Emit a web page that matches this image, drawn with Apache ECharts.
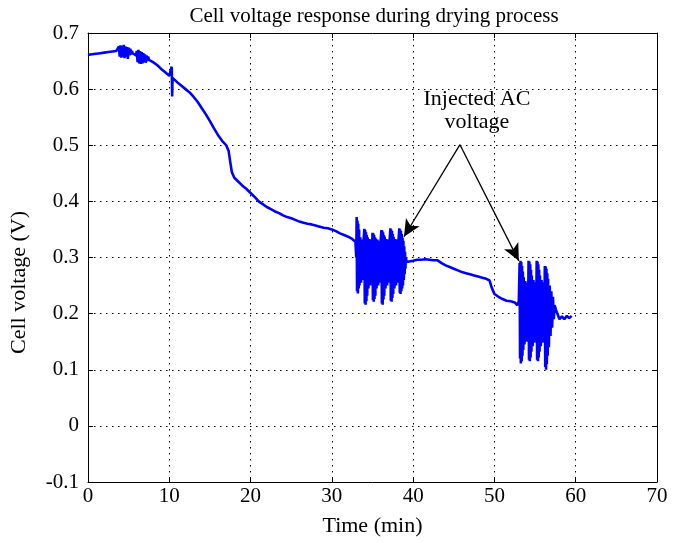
<!DOCTYPE html>
<html>
<head>
<meta charset="utf-8">
<script src="https://cdn.jsdelivr.net/npm/echarts@6/dist/echarts.min.js"></script>
<style>html,body{margin:0;padding:0;background:#fff;}#c{width:686px;height:542px;}</style>
</head>
<body>
<div id="c"></div>
<script>
// Time (min)
var timeMin = [
0,0.5,1,1.5,2,2.5,3,3.5,
3.7,3.8,3.9,4.0,4.1,4.2,4.3,4.4,4.5,4.6,4.7,4.8,4.9,5.0,5.1,5.2,5.3,5.4,5.5,5.7,5.9,
6.0,6.1,6.2,6.3,6.4,6.5,6.6,6.7,6.8,6.9,7.0,7.1,7.2,7.3,7.4,7.5,
8.0,8.5,9.0,9.5,10.0,10.2,10.3,10.35,10.4,10.6,11.0,11.5,12,12.5,13,13.5,14,14.5,15,15.5,16,16.5,17,17.3,17.5,17.7,18,18.5,19,19.5,20,20.5,21,21.5,22,22.5,23,23.5,24,24.5,25,25.5,26,26.5,27,27.5,28,28.5,29,29.5,30,30.5,31,31.5,32,32.5,32.9,
33.0,33.05,33.1,33.15,33.2,33.25,33.3,33.35,33.4,33.5,33.6,33.7,33.8,33.9,
34.0,34.05,34.1,34.15,34.2,34.25,34.3,34.35,34.4,34.5,34.6,34.7,34.8,34.9,
35.0,35.05,35.1,35.15,35.2,35.25,35.3,35.35,35.4,35.5,35.6,35.7,35.8,35.9,36.0,
36.1,36.15,36.2,36.25,36.3,36.35,36.4,36.45,36.5,36.6,36.7,36.8,36.9,37.0,37.1,
37.2,37.25,37.3,37.35,37.4,37.45,37.5,37.55,37.6,37.7,37.8,37.9,38.0,38.1,38.2,
38.3,38.35,38.4,38.45,38.5,38.55,38.6,38.65,38.7,38.75,38.8,38.85,38.9,38.95,39.0,39.05,39.1,39.2,
39.5,40,40.5,41,41.5,42,42.5,43,43.5,44,44.5,45,45.5,46,46.5,47,47.5,48,48.5,49,49.4,49.7,50,50.5,51,51.5,52,52.5,52.8,53.0,
53.1,53.15,53.2,53.25,53.3,53.35,53.4,53.45,53.5,53.55,53.6,53.7,53.8,53.9,54.0,54.1,
54.2,54.25,54.3,54.35,54.4,54.45,54.5,54.55,54.6,54.7,54.8,54.9,55.0,55.1,
55.2,55.25,55.3,55.35,55.4,55.45,55.5,55.55,55.6,55.7,55.8,55.9,56.0,56.1,
56.2,56.25,56.3,56.35,56.4,56.45,56.5,56.55,56.6,56.7,56.8,56.9,57.0,57.1,57.2,57.3,57.4,
57.6,57.8,58.0,58.3,58.6,58.9,59.2,59.5
];
// Cell voltage (V)
var cellVoltage = [
0.661,0.662,0.663,0.664,0.665,0.666,0.667,0.668,
0.668,0.676,0.658,0.678,0.656,0.677,0.657,0.679,0.655,0.676,0.658,0.675,0.654,0.674,0.66,0.672,0.662,0.668,0.664,0.662,0.66,
0.668,0.648,0.67,0.646,0.668,0.645,0.666,0.646,0.664,0.648,0.662,0.647,0.66,0.65,0.658,0.652,
0.648,0.643,0.636,0.63,0.624,0.622,0.64,0.587,0.62,0.618,0.612,0.606,0.6,0.594,0.586,0.577,0.566,0.555,0.543,0.53,0.518,0.508,0.5,0.49,0.47,0.452,0.442,0.435,0.428,0.422,0.415,0.408,0.4,0.395,0.39,0.386,0.382,0.379,0.375,0.372,0.37,0.367,0.364,0.362,0.36,0.359,0.357,0.355,0.353,0.352,0.35,0.347,0.343,0.34,0.337,0.333,0.328,
0.30,0.372,0.24,0.366,0.236,0.36,0.245,0.35,0.25,0.336,0.255,0.332,0.26,0.33,
0.351,0.218,0.349,0.216,0.345,0.222,0.34,0.232,0.336,0.245,0.333,0.25,0.332,0.255,
0.344,0.224,0.343,0.221,0.34,0.226,0.336,0.232,0.334,0.245,0.332,0.25,0.33,0.255,0.33,
0.349,0.218,0.348,0.216,0.345,0.225,0.34,0.232,0.337,0.245,0.333,0.25,0.332,0.255,0.33,
0.352,0.223,0.35,0.221,0.347,0.228,0.342,0.235,0.337,0.245,0.333,0.25,0.332,0.255,0.33,
0.352,0.237,0.35,0.235,0.347,0.24,0.342,0.245,0.335,0.25,0.33,0.26,0.32,0.27,0.31,0.28,0.30,0.292,
0.293,0.294,0.296,0.296,0.297,0.296,0.295,0.295,0.29,0.286,0.283,0.28,0.277,0.274,0.272,0.27,0.268,0.266,0.264,0.262,0.259,0.245,0.235,0.23,0.226,0.223,0.222,0.22,0.215,0.222,
0.29,0.12,0.294,0.111,0.292,0.115,0.285,0.125,0.275,0.135,0.265,0.145,0.258,0.15,0.255,0.15,
0.294,0.118,0.293,0.115,0.288,0.122,0.278,0.132,0.268,0.142,0.26,0.148,0.256,0.15,
0.294,0.118,0.293,0.115,0.288,0.122,0.278,0.132,0.268,0.142,0.26,0.148,0.256,0.15,
0.285,0.105,0.284,0.10,0.28,0.11,0.272,0.125,0.262,0.14,0.25,0.16,0.24,0.175,0.23,0.19,0.215,
0.205,0.198,0.19,0.195,0.19,0.196,0.192,0.196
];
var xTicks = [0, 10, 20, 30, 40, 50, 60, 70];
var yTicks = [-0.1, 0, 0.1, 0.2, 0.3, 0.4, 0.5, 0.6, 0.7];
var annotationText = ['Injected AC', 'voltage'];
var annotationPos = [47.85, 0.561];
var arrowFrom = [45.76, 0.501];
var arrowTips = [[38.87, 0.337], [53.0, 0.294]];

var FONT = '"Liberation Serif", "Times New Roman", serif';
var seriesData = timeMin.map(function (t, i) { return [t, cellVoltage[i]]; });

var chart = echarts.init(document.getElementById('c'), null, {renderer: 'canvas'});
var gridDash = [1.5, 4.5];
function fmt(v) { var r = Math.round(v * 10) / 10; return r === 0 ? '0' : String(r); }

var option = {
  animation: false,
  backgroundColor: '#fff',
  title: {
    text: 'Cell voltage response during drying process',
    left: 369, top: 1, textAlign: 'center',
    textStyle: {fontFamily: FONT, fontWeight: 'normal', fontSize: 21, color: '#000'}
  },
  grid: {left: 88, right: 29, top: 33, bottom: 58, containLabel: false},
  xAxis: [{
    type: 'value', min: xTicks[0], max: xTicks[xTicks.length - 1], interval: 10, position: 'bottom',
    name: 'Time (min)', nameLocation: 'middle', nameGap: 33,
    nameTextStyle: {fontFamily: FONT, fontSize: 22, color: '#000'},
    axisLine: {show: true, onZero: false, lineStyle: {color: '#000', width: 1}},
    axisTick: {show: true, inside: true, length: 5, lineStyle: {color: '#000'}},
    axisLabel: {fontFamily: FONT, fontSize: 21, color: '#000', margin: 4},
    splitLine: {show: true, lineStyle: {color: '#000', type: gridDash, width: 1}}
  }, {
    type: 'value', min: xTicks[0], max: xTicks[xTicks.length - 1], interval: 10, position: 'top',
    axisLine: {show: true, onZero: false, lineStyle: {color: '#000', width: 1}},
    axisTick: {show: true, inside: true, length: 5, lineStyle: {color: '#000'}},
    axisLabel: {show: false}, splitLine: {show: false}
  }],
  yAxis: [{
    type: 'value', min: yTicks[0], max: yTicks[yTicks.length - 1], interval: 0.1, position: 'left',
    name: 'Cell voltage (V)', nameLocation: 'middle', nameGap: 58,
    nameTextStyle: {fontFamily: FONT, fontSize: 22, color: '#000', padding: [0, 50, 0, 0]},
    axisLine: {show: true, onZero: false, lineStyle: {color: '#000', width: 1}},
    axisTick: {show: true, inside: true, length: 5, lineStyle: {color: '#000'}},
    axisLabel: {fontFamily: FONT, fontSize: 21, color: '#000', margin: 9, formatter: fmt},
    splitLine: {show: true, lineStyle: {color: '#000', type: gridDash, width: 1}}
  }, {
    type: 'value', min: yTicks[0], max: yTicks[yTicks.length - 1], interval: 0.1, position: 'right',
    axisLine: {show: true, onZero: false, lineStyle: {color: '#000', width: 1}},
    axisTick: {show: true, inside: true, length: 5, lineStyle: {color: '#000'}},
    axisLabel: {show: false}, splitLine: {show: false}
  }],
  series: [{
    type: 'line',
    data: seriesData,
    showSymbol: false,
    symbol: 'none',
    lineStyle: {color: '#0000ff', width: 2.6},
    z: 3,
    markLine: {
      silent: true,
      symbol: ['none', 'arrow'],
      symbolSize: [12, 17],
      lineStyle: {color: '#000', width: 1.3, type: 'solid'},
      label: {show: false},
      data: arrowTips.map(function (tip) {
        return [{coord: arrowFrom}, {coord: tip}];
      })
    },
    markPoint: {
      silent: true,
      symbol: 'rect', symbolSize: 0,
      label: {
        show: true, position: 'inside',
        formatter: annotationText.join('\n'),
        fontFamily: FONT, fontSize: 22, color: '#000', lineHeight: 23, align: 'center'
      },
      data: [{coord: annotationPos}]
    }
  }]
};
chart.setOption(option);
</script>
</body>
</html>
